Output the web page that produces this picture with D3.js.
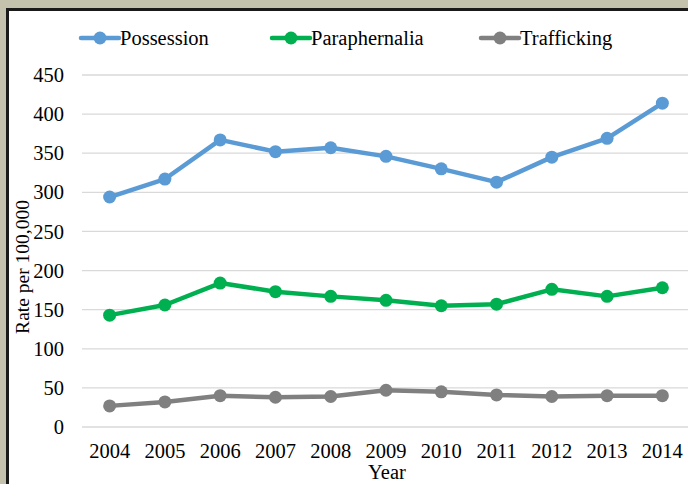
<!DOCTYPE html>
<html>
<head>
<meta charset="utf-8">
<script src="https://cdn.jsdelivr.net/npm/d3@7"></script>
<style>
  body { margin: 0; background: #c4c2ac; }
  svg { display: block; }
</style>
</head>
<body>
<svg id="chart" width="688" height="484"></svg>
<script>
// Chart data
const years = ["2004", "2005", "2006", "2007", "2008", "2009", "2010", "2011", "2012", "2013", "2014"];
const seriesNames = ["Possession", "Paraphernalia", "Trafficking"];
const possession = [294, 317, 367, 352, 357, 346, 330, 313, 345, 369, 414];
const paraphernalia = [143, 156, 184, 173, 167, 162, 155, 157, 176, 167, 178];
const trafficking = [27, 32, 40, 38, 39, 47, 45, 41, 39, 40, 40];
const yTicks = [0, 50, 100, 150, 200, 250, 300, 350, 400, 450];

const colors = ["#5b9bd5", "#00b050", "#808080"];
const allSeries = [possession, paraphernalia, trafficking];

const width = 688, height = 484;
const margin = {top: 75, right: -2, bottom: 57, left: 82};
const font = "'Liberation Serif', 'Times New Roman', serif";
const fontSize = "20.5px";

const svg = d3.select("#chart");

// Frame
svg.append("rect")
    .attr("x", 7.5).attr("y", 9.5)
    .attr("width", width + 10).attr("height", height + 10)
    .attr("fill", "#ffffff")
    .attr("stroke", "#1a1a1a")
    .attr("stroke-width", 3);

const x = d3.scaleBand()
    .domain(years)
    .range([margin.left, width - margin.right]);

const y = d3.scaleLinear()
    .domain([0, 450])
    .range([height - margin.bottom, margin.top]);

// Gridlines
svg.append("g")
    .selectAll("line")
    .data(yTicks)
    .join("line")
    .attr("x1", margin.left)
    .attr("x2", width)
    .attr("y1", d => y(d))
    .attr("y2", d => y(d))
    .attr("stroke", "#d9d9d9")
    .attr("stroke-width", 1.3);

// Y axis
const yAxis = svg.append("g")
    .attr("transform", `translate(${margin.left},0)`)
    .call(d3.axisLeft(y).tickValues(yTicks).tickSize(0).tickPadding(18));
yAxis.select(".domain").remove();
yAxis.selectAll("text")
    .style("font-family", font)
    .style("font-size", fontSize)
    .attr("fill", "#000");

// X axis
const xAxis = svg.append("g")
    .attr("transform", `translate(0,${y(0)})`)
    .call(d3.axisBottom(x).tickSize(0).tickPadding(16));
xAxis.select(".domain").remove();
xAxis.selectAll("text")
    .style("font-family", font)
    .style("font-size", fontSize)
    .attr("fill", "#000");

// Axis titles
svg.append("text")
    .attr("transform", `translate(29, ${(y(0) + y(450)) / 2 + 16}) rotate(-90)`)
    .attr("text-anchor", "middle")
    .style("font-family", font)
    .style("font-size", "19.5px")
    .text("Rate per 100,000");

svg.append("text")
    .attr("x", 387)
    .attr("y", 479)
    .attr("text-anchor", "middle")
    .style("font-family", font)
    .style("font-size", fontSize)
    .text("Year");

// Lines and markers
const line = d3.line()
    .x((d, i) => x(years[i]) + x.bandwidth() / 2)
    .y(d => y(d));

allSeries.forEach((values, k) => {
    svg.append("path")
        .datum(values)
        .attr("d", line)
        .attr("fill", "none")
        .attr("stroke", colors[k])
        .attr("stroke-width", 4.5)
        .attr("stroke-linejoin", "round");

    svg.append("g")
        .selectAll("circle")
        .data(values)
        .join("circle")
        .attr("cx", (d, i) => x(years[i]) + x.bandwidth() / 2)
        .attr("cy", d => y(d))
        .attr("r", 6.5)
        .attr("fill", colors[k]);
});

// Legend
const legendX = [81, 272, 481];
const legend = svg.append("g");
seriesNames.forEach((name, k) => {
    const g = legend.append("g").attr("transform", `translate(${legendX[k]}, 38)`);
    g.append("line")
        .attr("x1", 0).attr("x2", 38)
        .attr("stroke", colors[k])
        .attr("stroke-width", 4.5)
        .attr("stroke-linecap", "round");
    g.append("circle")
        .attr("cx", 19).attr("r", 6.5)
        .attr("fill", colors[k]);
    g.append("text")
        .attr("x", 39).attr("y", 7)
        .style("font-family", font)
        .style("font-size", fontSize)
        .text(name);
});
</script>
</body>
</html>
